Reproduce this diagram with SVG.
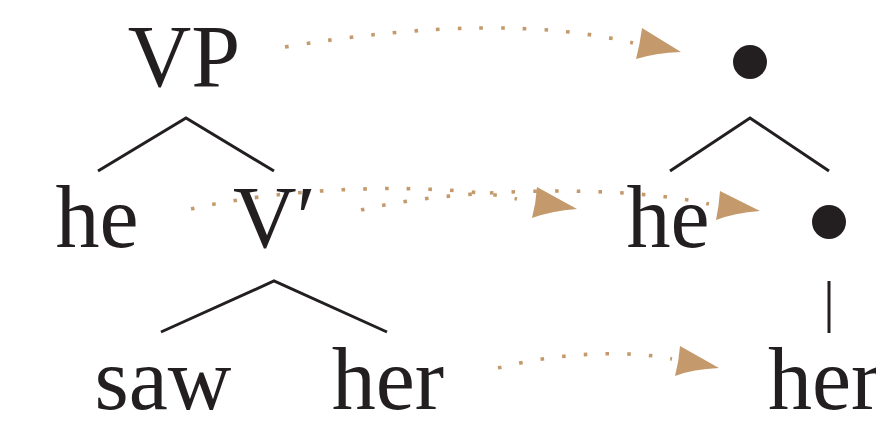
<svg xmlns="http://www.w3.org/2000/svg" width="876" height="437" viewBox="0 0 876 437">
<style>
text{font-family:"Liberation Serif","Times New Roman",serif;font-size:88px;fill:#231f20}
.edge{stroke:#231f20;stroke-width:3;fill:none;stroke-linecap:butt}
.dotted{stroke:#c49a6c;stroke-width:3.6;fill:none;stroke-dasharray:3.6 18.1;stroke-linecap:butt}
.head{fill:#c49a6c}
.pt{fill:#231f20}
</style>
<rect width="876" height="437" fill="#ffffff"/>
<g id="tree-left">
  <g id="node-VP"><text x="184" y="86" text-anchor="middle">VP</text></g>
  <g id="node-he-left"><text x="97" y="247" text-anchor="middle">he</text></g>
  <g id="node-Vbar"><text x="233" y="247">V′</text></g>
  <g id="node-saw"><text x="163" y="409" text-anchor="middle">saw</text></g>
  <g id="node-her-left"><text x="388" y="409" text-anchor="middle">her</text></g>
</g>
<g id="tree-right">
  <g id="node-top-dot"><circle class="pt" cx="750" cy="62" r="17"/></g>
  <g id="node-he-right"><text x="668" y="247" text-anchor="middle">he</text></g>
  <g id="node-mid-dot"><circle class="pt" cx="829" cy="222" r="17"/></g>
  <g id="node-her-right"><text x="768" y="409">her</text></g>
</g>
<g id="connectors">
  <path class="edge" d="M98,171 L186,118 L274,171"/>
  <path class="edge" d="M161,332 L274,281 L387,332"/>
  <path class="edge" d="M670,171 L750,118 L829,171"/>
  <path class="edge" d="M829,281 L829,333"/>
  <path class="dotted" d="M285,47 Q501,11 633,43"/>
  <path class="head" d="M642,28 L681,52 Q655,53 636,59 Q640,44 642,28 Z"/>
  <path class="dotted" d="M191,209 C290,186 440,182 517,199"/>
  <path class="head" d="M537,187 L577,209 Q551,211 532,218 Q536,203 537,187 Z"/>
  <path class="dotted" d="M361,210 C450,188 620,184 709,204"/>
  <path class="head" d="M720,191 L760,211 Q734,213 716,220 Q719,206 720,191 Z"/>
  <path class="dotted" d="M498,368 C560,352 630,350 672,359"/>
  <path class="head" d="M680,346 L719,368 Q693,369 675,376 Q679,361 680,346 Z"/>
</g>
</svg>
